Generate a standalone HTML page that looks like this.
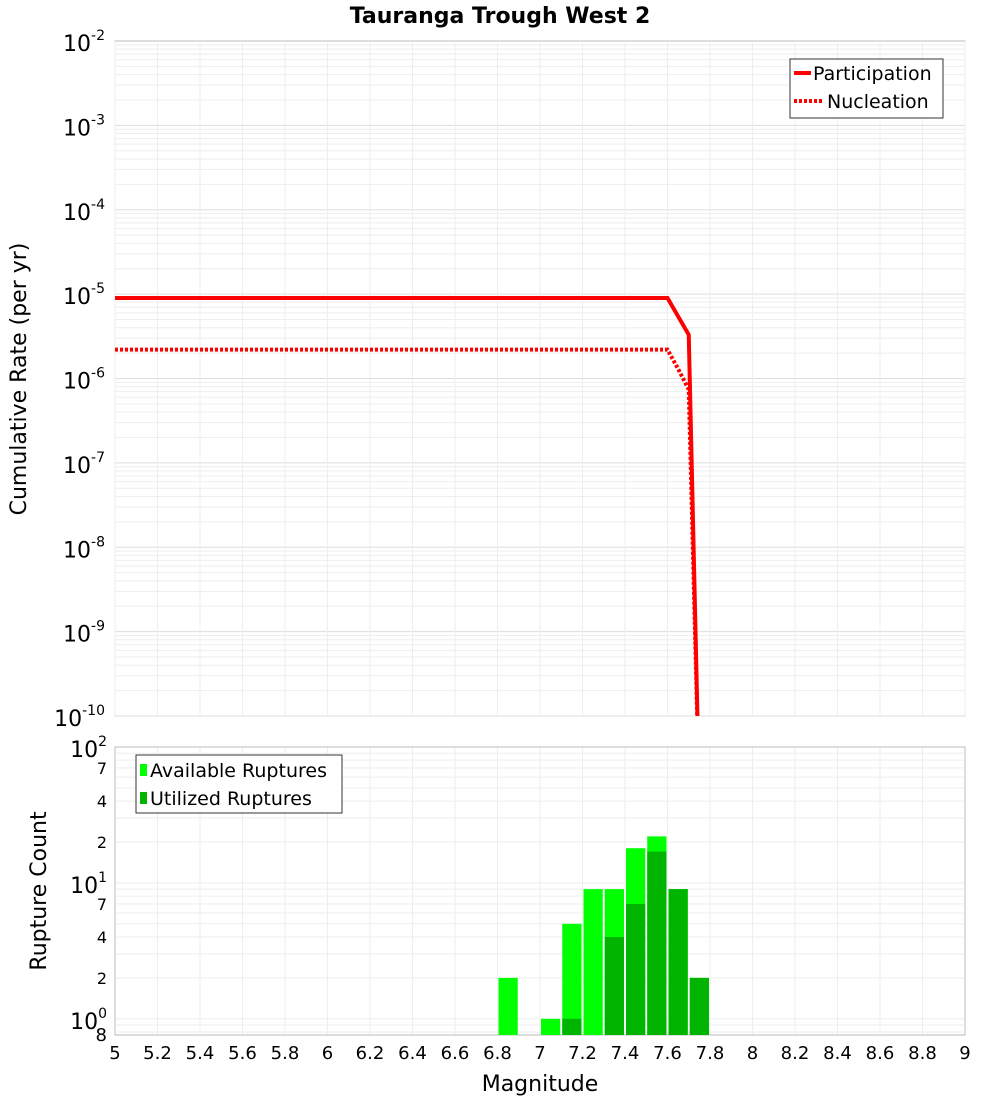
<!DOCTYPE html>
<html><head><meta charset="utf-8"><style>
body{margin:0;background:#fff;font-family:"Liberation Sans","DejaVu Sans",sans-serif}
svg text{font-family:"DejaVu Sans","Liberation Sans",sans-serif}
</style></head><body>
<svg id="c" width="1000" height="1100" xmlns="http://www.w3.org/2000/svg"></svg>
<script>
const partMags=[5,7.6,7.7,7.75];
const partRates=[9e-6,9e-6,3.3e-6,1e-11];
const nuclMags=[5,7.6,7.65,7.7,7.75];
const nuclRates=[2.2e-6,2.2e-6,1.3e-6,7.4e-7,1e-11];
const binStarts=[6.8,6.9,7.0,7.1,7.2,7.3,7.4,7.5,7.6,7.7];
const available=[2,0,1,5,9,9,18,22,9,2];
const utilized=[0,0,0,1,0,4,7,17,9,2];
const xTicks=[5,5.2,5.4,5.6,5.8,6,6.2,6.4,6.6,6.8,7,7.2,7.4,7.6,7.8,8,8.2,8.4,8.6,8.8,9];
const topExps=[-2,-3,-4,-5,-6,-7,-8,-9,-10];

const NS="http://www.w3.org/2000/svg",svg=document.getElementById('c');
function el(t,a,p){const e=document.createElementNS(NS,t);for(const k in a)e.setAttribute(k,a[k]);(p||svg).appendChild(e);return e;}
const X0=115,X1=965;
const x=m=>X0+(m-5)/(9-5)*(X1-X0);
const T0=41,T1=716;
const yTop=v=>T0+(-2-Math.log10(v))/8*(T1-T0);
const B0=747,B1=1035,bMin=Math.log10(0.76);
const yBot=v=>B0+(2-Math.log10(v))/(2-bMin)*(B1-B0);

// title
let t=el('text',{x:500,y:23,'text-anchor':'middle','font-size':22,'font-weight':'bold'});t.textContent='Tauranga Trough West 2';


// top plot frame and grid
let g=el('g',{});
el('rect',{x:X0,y:T0,width:X1-X0,height:T1-T0,fill:'#fff',stroke:'#bbb'},g);
for(let e=-10;e<-2;e++)for(let k=1;k<10;k++){const yy=yTop(k*Math.pow(10,e));el('line',{x1:X0,x2:X1,y1:yy,y2:yy,stroke:k==1?'#ddd':'#eee','stroke-width':1},g);}
xTicks.forEach(m=>{el('line',{x1:x(m),x2:x(m),y1:T0,y2:T1,stroke:'#eee'},g);el('line',{x1:x(m),x2:x(m),y1:B0,y2:B1,stroke:'#eee'},g);});
topExps.forEach(e=>{const tt=el('text',{x:105,y:yTop(Math.pow(10,e))+10,'text-anchor':'end','font-size':22},g);tt.innerHTML='10<tspan dy="-11" font-size="14">'+e+'</tspan>';
});
t=el('text',{x:0,y:0,transform:'translate(26,379) rotate(-90)','text-anchor':'middle','font-size':22});t.textContent='Cumulative Rate (per yr)';


const clip=el('clipPath',{id:'cp'});el('rect',{x:X0,y:T0,width:X1-X0,height:T1-T0},clip);
let p=el('polyline',{points:partMags.map((m,i)=>x(m)+','+yTop(partRates[i])).join(' '),fill:'none',stroke:'#f00','stroke-width':4,'clip-path':'url(#cp)'});

p=el('polyline',{points:nuclMags.map((m,i)=>x(m)+','+yTop(nuclRates[i])).join(' '),fill:'none',stroke:'#f00','stroke-width':4,'stroke-dasharray':'3,2','clip-path':'url(#cp)'});


let lg=el('g',{});
el('rect',{x:790,y:59,width:153,height:59,fill:'#fff',stroke:'#333'},lg);
el('line',{x1:794,x2:811,y1:73,y2:73,stroke:'#f00','stroke-width':4},lg);
el('line',{x1:794,x2:823,y1:101,y2:101,stroke:'#f00','stroke-width':4,'stroke-dasharray':'3,2'},lg);
t=el('text',{x:813,y:80,'font-size':19},lg);t.textContent='Participation';
t=el('text',{x:827,y:108,'font-size':19},lg);t.textContent='Nucleation';

// bottom plot
let bg=el('g',{});
el('rect',{x:X0,y:B0,width:X1-X0,height:B1-B0,fill:'none',stroke:'#bbb'},bg);
[0.8,0.9,1,2,3,4,5,6,7,8,9,10,20,30,40,50,60,70,80,90].forEach(v=>{const yy=yBot(v);el('line',{x1:X0,x2:X1,y1:yy,y2:yy,stroke:'#eee'},bg);});
[[100,'10','2',22],[70,'7','',16],[40,'4','',16],[20,'2','',16],[10,'10','1',22],[7,'7','',16],[4,'4','',16],[2,'2','',16],[1,'10','0',22]].forEach(a=>{
 const tt=el('text',{x:107,y:yBot(a[0])+(a[3]>20?10:6),'text-anchor':'end','font-size':a[3]},bg);
 tt.innerHTML=a[1]+(a[2]?'<tspan dy="-11" font-size="14">'+a[2]+'</tspan>':'');
 });
t=el('text',{x:107,y:1041,'text-anchor':'end','font-size':18},bg);t.textContent='8';
binStarts.forEach((m,i)=>{
 if(available[i]>0){const r=el('rect',{x:x(m)+1,y:yBot(available[i]),width:x(m+0.1)-x(m)-2,height:B1-yBot(available[i]),fill:'#00ff00'},bg);
 }
 if(utilized[i]>0){const r=el('rect',{x:x(m)+1,y:yBot(utilized[i]),width:x(m+0.1)-x(m)-2,height:B1-yBot(utilized[i]),fill:'#00b400'},bg);
 }
});
t=el('text',{x:0,y:0,transform:'translate(46,891) rotate(-90)','text-anchor':'middle','font-size':22});t.textContent='Rupture Count';

let l2=el('g',{});
el('rect',{x:136,y:755,width:206,height:58,fill:'#fff',stroke:'#333'},l2);
el('rect',{x:140,y:764,width:7,height:12,fill:'#00ff00'},l2);
el('rect',{x:140,y:792,width:7,height:12,fill:'#00b400'},l2);
t=el('text',{x:150,y:777,'font-size':19},l2);t.textContent='Available Ruptures';
t=el('text',{x:150,y:805,'font-size':19},l2);t.textContent='Utilized Ruptures';

xTicks.forEach(m=>{const tt=el('text',{x:x(m),y:1059,'text-anchor':'middle','font-size':18});tt.textContent=String(m);
});
t=el('text',{x:540,y:1091,'text-anchor':'middle','font-size':22});t.textContent='Magnitude';

</script>
</body></html>
